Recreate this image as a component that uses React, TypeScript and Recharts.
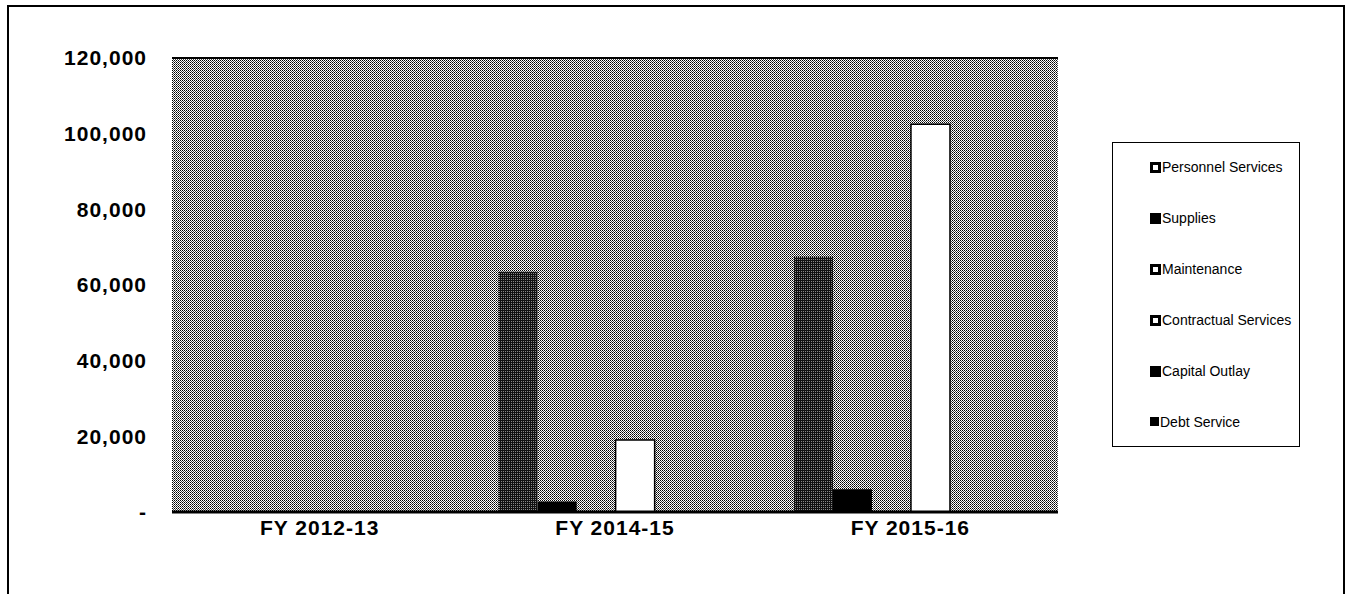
import { BarChart, Bar, XAxis, YAxis, CartesianGrid, ReferenceLine } from "recharts";

const categories = ["FY 2012-13", "FY 2014-15", "FY 2015-16"];
const personnelServices = [0, 63500, 67500];
const supplies = [0, 2800, 6000];
const maintenance = [0, 0, 0];
const contractualServices = [0, 19000, 102500];
const capitalOutlay = [0, 0, 0];
const debtService = [0, 0, 0];
const yTicks = [0, 20000, 40000, 60000, 80000, 100000, 120000];

const data = categories.map((name, i) => ({
    name,
    personnel: personnelServices[i],
    supplies: supplies[i],
    maintenance: maintenance[i],
    contractual: contractualServices[i],
    capital: capitalOutlay[i],
    debt: debtService[i],
}));

// legend swatches: outlined (white box with black rim) or solid black
const legendItems = [
    { label: "Personnel Services", kind: "outline" },
    { label: "Supplies", kind: "solid" },
    { label: "Maintenance", kind: "outline" },
    { label: "Contractual Services", kind: "outline" },
    { label: "Capital Outlay", kind: "solid" },
    { label: "Debt Service", kind: "small" },
];

const FONT = "'Liberation Sans', Arial, sans-serif";

const LegendBox = () => (
    <div
        style={{
            position: "absolute",
            left: 1112,
            top: 142,
            width: 188,
            height: 305,
            border: "1.5px solid #000",
            boxSizing: "border-box",
            background: "#fff",
            paddingTop: 16,
            fontFamily: FONT,
            fontSize: 14,
            color: "#000",
        }}
    >
        {legendItems.map((it) => (
            <div
                key={it.label}
                style={{ height: 51, display: "flex", alignItems: "flex-start", paddingLeft: 37 }}
            >
                <span
                    style={{
                        display: "inline-block",
                        width: it.kind === "small" ? 9 : 11,
                        height: it.kind === "small" ? 9 : 11,
                        marginTop: 3,
                        boxSizing: "border-box",
                        background: it.kind === "outline" ? "#fff" : "#000",
                        border: "3px solid #000",
                        marginRight: 1,
                    }}
                />
                <span>{it.label}</span>
            </div>
        ))}
    </div>
);

const App = () => {
    return (
        <div style={{ position: "absolute", left: 0, top: 0, width: 1346, height: 594, background: "#fff", overflow: "hidden" }}>
            <div
                style={{
                    position: "absolute",
                    left: 7,
                    top: 5,
                    width: 1338,
                    height: 620,
                    borderLeft: "2px solid #000",
                    borderTop: "2px solid #000",
                    borderRight: "2px solid #000",
                    boxSizing: "border-box",
                }}
            />
            <BarChart
                width={1346}
                height={594}
                data={data}
                margin={{ top: 58, right: 288, left: 0, bottom: 52 }}
                barCategoryGap="10.6%"
                barGap={0}
                style={{ position: "absolute", left: 0, top: 0 }}
            >
                <defs>
                    <pattern id="dither" width="2" height="2" patternUnits="userSpaceOnUse">
                        <rect width="2" height="2" fill="#fff" />
                        <rect x="0" y="0" width="1" height="1" fill="#000" />
                        <rect x="1" y="1" width="1" height="1" fill="#444" />
                    </pattern>
                    <pattern id="darkDither" width="2" height="2" patternUnits="userSpaceOnUse">
                        <rect width="2" height="2" fill="#111" />
                        <rect x="1" y="1" width="1" height="1" fill="#888" />
                    </pattern>
                </defs>
                <CartesianGrid fill="url(#dither)" horizontal={false} vertical={false} />
                <XAxis
                    dataKey="name"
                    axisLine={{ stroke: "#000", strokeWidth: 3 }}
                    tickLine={false}
                    tick={{ fill: "#000", fontSize: 21, fontWeight: 700, fontFamily: FONT, letterSpacing: 1 }}
                />
                <YAxis
                    width={172}
                    domain={[0, 120000]}
                    ticks={yTicks}
                    interval={0}
                    axisLine={false}
                    tickLine={false}
                    tickMargin={19}
                    tickFormatter={(v: number) => (v === 0 ? "-" : v.toLocaleString("en-US"))}
                    tick={{ fill: "#000", fontSize: 21, fontWeight: 700, fontFamily: FONT, letterSpacing: 1 }}
                />
                <ReferenceLine y={120000} stroke="#000" strokeWidth={2} />
                <Bar dataKey="personnel" name="Personnel Services" fill="url(#darkDither)" isAnimationActive={false} />
                <Bar dataKey="supplies" name="Supplies" fill="#000" isAnimationActive={false} />
                <Bar dataKey="maintenance" name="Maintenance" fill="#fff" stroke="#000" isAnimationActive={false} />
                <Bar dataKey="contractual" name="Contractual Services" fill="#fff" stroke="#000" strokeWidth={1.5} isAnimationActive={false} />
                <Bar dataKey="capital" name="Capital Outlay" fill="#000" isAnimationActive={false} />
                <Bar dataKey="debt" name="Debt Service" fill="#000" isAnimationActive={false} />
            </BarChart>
            <LegendBox />
        </div>
    );
};

export default App;
